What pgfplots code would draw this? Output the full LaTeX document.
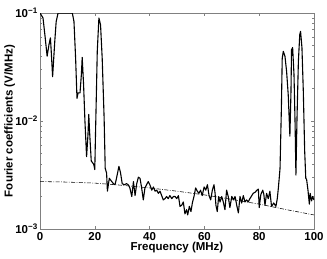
\documentclass[border=0pt]{standalone}
\usepackage{fontspec}
\setmainfont{Liberation Sans}
\usepackage{pgfplots}
\pgfplotsset{compat=1.18}
\begin{document}
\begin{tikzpicture}
\useasboundingbox (-40pt,-29pt) rectangle (287pt,229pt);
\begin{semilogyaxis}[
  scale only axis,
  width=274pt, height=216pt,
  at={(0,0)}, anchor=south west,
  xmin=0, xmax=100, ymin=1e-3, ymax=1e-1,
  xtick={0,20,40,60,80,100},
  ytick={1e-3,1e-2,1e-1},
  yticklabels={10\textsuperscript{\textbf{−3}},10\textsuperscript{\textbf{−2}},10\textsuperscript{\textbf{−1}}},
  /pgf/number format/assume math mode=true,
  tick align=inside,
  major tick length=3pt, minor tick length=2pt,
  tick style={color=gray, line width=0.5pt},
  axis line style={gray, line width=0.6pt},
  ticklabel style={font=\bfseries\fontsize{11.5}{12}\selectfont, text=black},
  xticklabel style={inner sep=1pt, yshift=-2pt},
  yticklabel style={inner sep=1pt, xshift=-1pt},
  xlabel={\bfseries Frequency (MHz)},
  ylabel={\bfseries Fourier coefficients (V/MHz)},
  label style={font=\bfseries\fontsize{11.5}{12}\selectfont},
  xlabel style={inner sep=0pt, yshift=-1pt},
  ylabel style={inner sep=0pt, yshift=-1pt},
  clip=true,
]
\addplot[black, line width=1.1pt, line join=round] coordinates {
(0.0,0.1) (1.1,0.0900) (1.9,0.0589) (2.6,0.0398) (3.3,0.0513) (3.8,0.0589)
(4.1,0.0442) (4.6,0.0257) (5.4,0.0550) (5.9,0.0832) (6.6,0.1) (11.8,0.1)
(12.4,0.0832) (13.0,0.0380) (13.5,0.0162) (13.9,0.0182) (14.6,0.0182)
(15.1,0.0269) (15.4,0.0389) (15.9,0.0219) (16.4,0.0100) (17.0,0.00468)
(17.5,0.00741) (17.8,0.0115) (18.1,0.00794) (18.7,0.00427) (19.6,0.00398)
(20.0,0.00355) (20.2,0.00646) (20.6,0.0191) (20.9,0.0442) (21.5,0.0900)
(22.1,0.0776) (22.7,0.0380) (23.4,0.0107) (23.8,0.00363) (24.3,0.00331)
(24.6,0.00224) (25.3,0.00295) (26.2,0.00275) (26.8,0.00263) (27.4,0.00257)
(28.0,0.00302) (28.8,0.00380) (29.4,0.00331) (30.0,0.00263) (30.8,0.00257)
(31.6,0.00263) (32.2,0.00257) (32.8,0.00240) (33.5,0.00200) (34.1,0.00275)
(34.7,0.00204) (35.3,0.00263) (35.9,0.00302) (36.5,0.00295) (37.1,0.00240)
(37.7,0.00186) (38.3,0.00240) (38.9,0.00257) (39.5,0.00275) (40.1,0.00257)
(40.8,0.00229) (41.4,0.00245) (42.0,0.00224) (42.6,0.00229) (43.2,0.00214)
(43.8,0.00224) (44.4,0.00204) (45.0,0.00186) (45.6,0.00191) (46.2,0.00200)
(46.8,0.00191) (47.4,0.00204) (48.1,0.00191) (48.7,0.00200) (49.3,0.00200)
(49.9,0.00191) (50.5,0.00204) (51.1,0.00162) (51.7,0.00166) (52.3,0.00178)
(52.9,0.00138) (53.5,0.00151) (53.9,0.00135) (54.5,0.00162) (55.1,0.00145)
(55.6,0.00174) (56.2,0.00200) (56.8,0.00240) (57.4,0.00224) (58.0,0.00214)
(58.6,0.00229) (59.2,0.00204) (59.9,0.00245) (60.5,0.00229) (61.1,0.00257)
(61.7,0.00204) (62.3,0.00186) (62.9,0.00229) (63.5,0.00257) (63.9,0.00214)
(64.2,0.00166) (64.7,0.00145) (65.2,0.00200) (65.7,0.00178) (66.3,0.00200)
(66.9,0.00178) (67.5,0.00151) (68.1,0.00229) (68.7,0.00200) (69.3,0.00158)
(70.0,0.00200) (70.6,0.00186) (71.2,0.00200) (71.8,0.00166) (72.4,0.00141)
(73.0,0.00200) (73.6,0.00174) (74.2,0.00204) (74.8,0.00178) (75.4,0.00186)
(76.0,0.00178) (76.6,0.00191) (77.3,0.00204) (77.8,0.00214) (78.5,0.00219)
(79.2,0.00229) (79.7,0.00234) (80.0,0.00158) (80.6,0.00209) (81.3,0.00229)
(81.7,0.00209) (82.1,0.00166) (82.7,0.00214) (83.3,0.00191) (83.9,0.00224)
(84.5,0.00162) (85.3,0.00174) (86.1,0.00162) (86.6,0.00191) (87.0,0.00240)
(87.6,0.00363) (88.1,0.0132) (88.4,0.0380) (88.8,0.0442) (89.4,0.0398)
(90.0,0.0288) (90.6,0.0174) (91.2,0.00724) (91.6,0.0188) (91.8,0.0457)
(92.2,0.0479) (92.7,0.0269) (93.1,0.00933) (93.4,0.00316) (93.8,0.0107)
(94.3,0.0355) (94.8,0.0631) (95.1,0.0676) (95.6,0.0479) (96.1,0.0188)
(96.6,0.00525) (97.0,0.00295) (97.3,0.00288) (97.8,0.00229) (98.3,0.00170)
(98.6,0.00214) (99.1,0.00182) (99.5,0.00200) (100,0.00186)
};
\addplot[black, line width=0.55pt, dash pattern=on 4pt off 1.5pt on 0.8pt off 1.5pt] coordinates {
(0,0.00275) (10,0.00272) (20,0.00266) (30,0.00254) (40,0.00240) (50,0.00224)
(60,0.00207) (70,0.00188) (80,0.00170) (90,0.00151) (100,0.00135)
};
\end{semilogyaxis}
\end{tikzpicture}
\end{document}
